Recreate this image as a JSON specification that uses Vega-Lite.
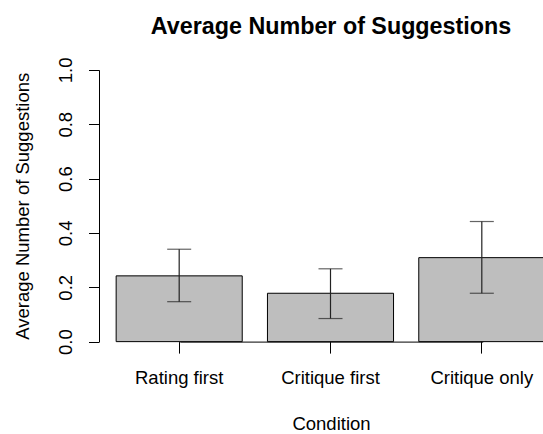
{
  "$schema": "https://vega.github.io/schema/vega-lite/v6.json",
  "width": 444,
  "height": 293.5,
  "autosize": {"type": "none"},
  "padding": {"left": 99, "top": 59, "right": 0, "bottom": 81.5},
  "background": "white",
  "config": {
    "view": {"stroke": null},
    "font": "Liberation Sans"
  },
  "title": {
    "text": "Average Number of Suggestions",
    "font": "Liberation Sans",
    "fontSize": 23.3,
    "fontWeight": "bold",
    "color": "black",
    "anchor": "middle",
    "baseline": "alphabetic",
    "offset": 0,
    "dx": 10
  },
  "data": {
    "values": [
      {"condition": "Rating first", "mean": 0.242, "lo": 0.147, "hi": 0.340},
      {"condition": "Critique first", "mean": 0.178, "lo": 0.085, "hi": 0.268},
      {"condition": "Critique only", "mean": 0.309, "lo": 0.178, "hi": 0.442}
    ]
  },
  "encoding": {
    "x": {
      "field": "condition",
      "type": "nominal",
      "sort": null,
      "scale": {"range": [0, 463], "paddingInner": 0.1667, "paddingOuter": 0.1133},
      "axis": {
        "title": "Condition",
        "offset": -10.9,
        "labelAngle": 0,
        "labelAlign": "center",
        "labelBaseline": "alphabetic",
        "labelPadding": 30,
        "labelFontSize": 18.5,
        "labelColor": "black",
        "tickSize": 11.5,
        "tickColor": "black",
        "domainColor": "black",
        "domainDash": [0, 80.8, 302.9, 100],
        "titleFontSize": 18.5,
        "titleFontWeight": "normal",
        "titleColor": "black",
        "titleBaseline": "alphabetic",
        "titleY": 88,
        "titleX": 232,
        "titleAlign": "center"
      }
    }
  },
  "layer": [
    {
      "mark": {"type": "bar", "fill": "#bebebe", "stroke": "black", "strokeWidth": 1},
      "encoding": {
        "y": {
          "field": "mean",
          "type": "quantitative",
          "scale": {"domain": [-0.04, 1.04], "nice": false, "zero": false},
          "axis": {
            "title": "Average Number of Suggestions",
            "values": [0, 0.2, 0.4, 0.6, 0.8, 1.0],
            "format": ".1f",
            "grid": false,
            "labelAngle": 270,
            "labelAlign": "center",
            "labelBaseline": "alphabetic",
            "labelPadding": 17,
            "labelFontSize": 18.5,
            "labelColor": "black",
            "tickSize": 10.5,
            "tickColor": "black",
            "domainColor": "black",
            "domainDash": [0, 10.9, 271.7, 10.9],
            "titleFontSize": 18.5,
            "titleFontWeight": "normal",
            "titleColor": "black",
            "titleAngle": 270,
            "titleBaseline": "alphabetic",
            "titleAlign": "center",
            "titleX": -71,
            "titleY": 146.75
          }
        }
      }
    },
    {
      "mark": {"type": "rule", "color": "#222222", "strokeWidth": 1.2},
      "encoding": {
        "y": {"field": "lo", "type": "quantitative"},
        "y2": {"field": "hi"}
      }
    },
    {
      "mark": {"type": "tick", "color": "#222222", "thickness": 1.2, "size": 24},
      "encoding": {
        "y": {"field": "lo", "type": "quantitative"}
      }
    },
    {
      "mark": {"type": "tick", "color": "#222222", "thickness": 1.2, "size": 24},
      "encoding": {
        "y": {"field": "hi", "type": "quantitative"}
      }
    }
  ]
}
